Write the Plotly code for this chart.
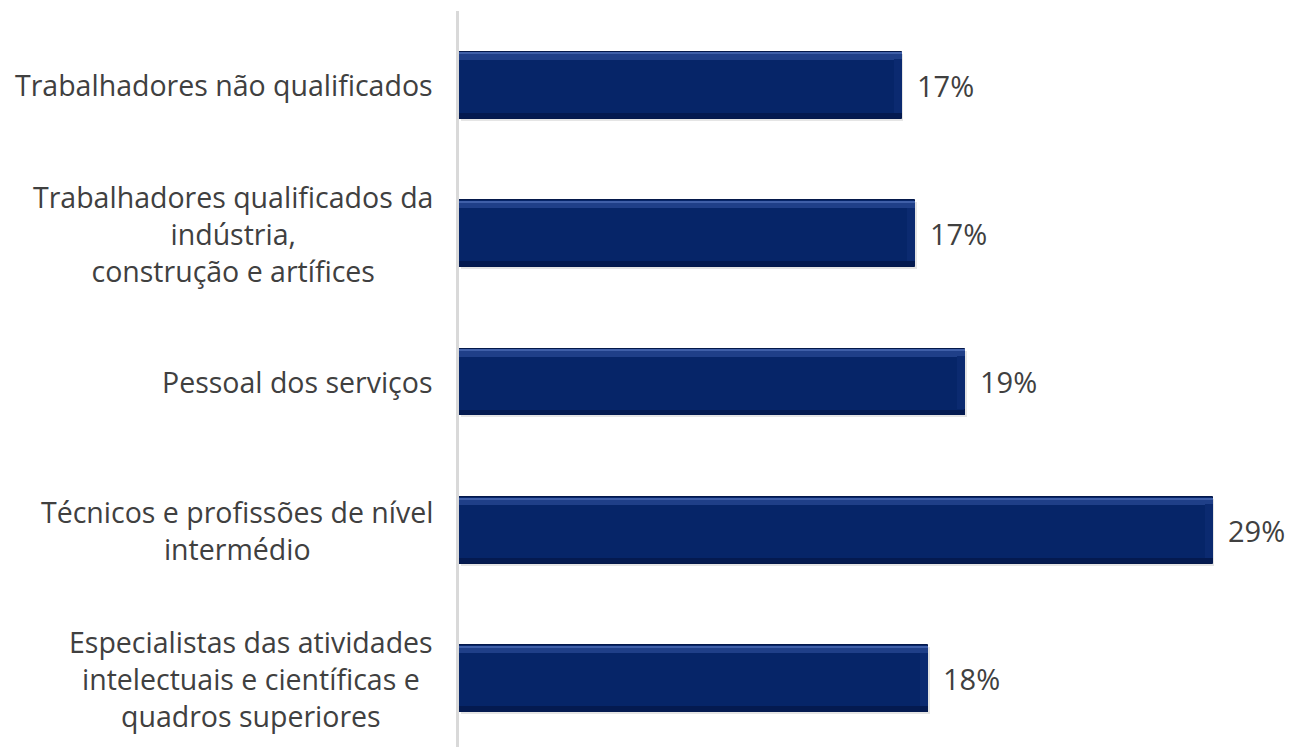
import plotly.graph_objects as go

categories = [
    "Trabalhadores não qualificados",
    "Trabalhadores qualificados da<br>indústria,<br>construção e artífices",
    "Pessoal dos serviços",
    "Técnicos e profissões de nível<br>intermédio",
    "Especialistas das atividades<br>intelectuais e científicas e<br>quadros superiores",
]
values = [16.8, 17.3, 19.2, 28.6, 17.8]
value_labels = ["17%", "17%", "19%", "29%", "18%"]

FONT = "Open Sans"
TXT = "#404040"
BAR = "#062568"
W = 0.45

idx = list(range(len(categories)))

fig = go.Figure()
# soft shadow
fig.add_trace(go.Bar(y=idx, x=values, orientation="h", width=W, offset=-W / 2 + 0.014,
                     marker=dict(color="rgba(0,0,0,0.10)", line=dict(width=0)),
                     base=[0.06] * len(values), hoverinfo="skip", showlegend=False))
# main bar
fig.add_trace(go.Bar(y=idx, x=values, orientation="h", width=W, offset=-W / 2,
                     marker=dict(color=BAR, line=dict(color="#04184a", width=1)),
                     hoverinfo="skip", showlegend=False))
# top bevel highlight
fig.add_trace(go.Bar(y=idx, x=values, orientation="h", width=0.05, offset=-W / 2 + 0.004,
                     marker=dict(color="#1f3f88", line=dict(width=0)),
                     hoverinfo="skip", showlegend=False))
fig.add_trace(go.Bar(y=idx, x=values, orientation="h", width=0.014, offset=-W / 2 + 0.004,
                     marker=dict(color="#3f5fa8", line=dict(width=0)),
                     hoverinfo="skip", showlegend=False))
# bottom bevel shade
fig.add_trace(go.Bar(y=idx, x=values, orientation="h", width=0.035, offset=W / 2 - 0.039,
                     marker=dict(color="#041a50", line=dict(width=0)),
                     hoverinfo="skip", showlegend=False))
# right bevel
fig.add_trace(go.Bar(y=idx, x=[0.3] * len(values), base=[v - 0.3 for v in values],
                     orientation="h", width=W - 0.09, offset=-W / 2 + 0.05,
                     marker=dict(color="#0b2a70", line=dict(width=0)),
                     hoverinfo="skip", showlegend=False))

annotations = []
for i, (v, lab) in enumerate(zip(values, value_labels)):
    annotations.append(dict(x=v, y=i, xref="x", yref="y", text=lab, showarrow=False,
                            xanchor="left", yanchor="middle", xshift=13,
                            font=dict(family=FONT, size=29, color=TXT)))
for i, cat in enumerate(categories):
    annotations.append(dict(x=0, y=i, xref="paper", yref="y", text=cat, showarrow=False,
                            xanchor="right", yanchor="middle", align="center",
                            xshift=-24,
                            font=dict(family=FONT, size=28.5, color=TXT)))

fig.update_layout(
    width=1285, height=739,
    margin=dict(l=451, r=0, t=3, b=0),
    paper_bgcolor="white", plot_bgcolor="white",
    barmode="overlay", bargap=0,
    showlegend=False,
    xaxis=dict(range=[0, 31.64], showgrid=False, zeroline=False, showticklabels=False,
               ticks="", showline=False),
    yaxis=dict(range=[4.46, -0.5], showgrid=False, zeroline=False, showticklabels=False,
               ticks="", showline=True, linecolor="#d9d9d9", linewidth=3, layer="below traces"),
    annotations=annotations,
)

fig.write_html("out.html")
